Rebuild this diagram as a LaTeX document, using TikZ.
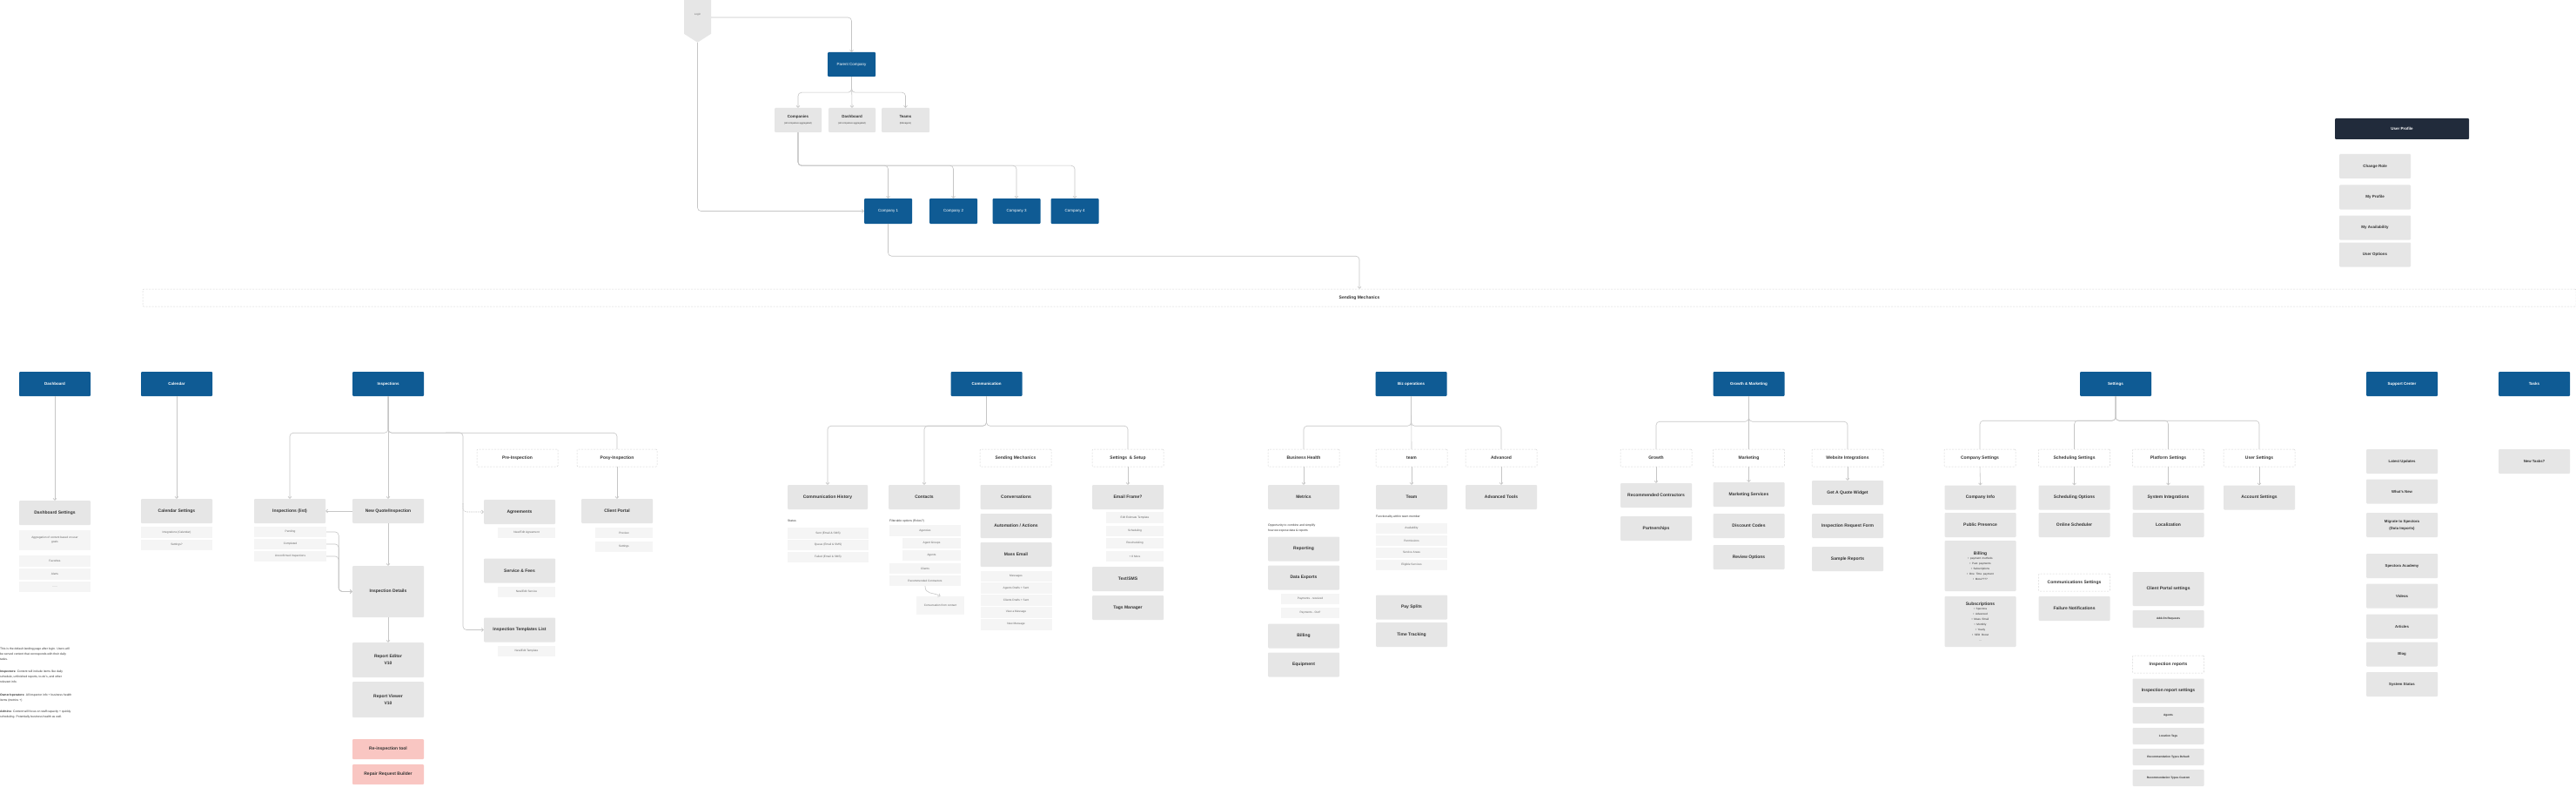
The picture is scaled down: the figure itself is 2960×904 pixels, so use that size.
\documentclass[tikz,border=0pt]{standalone}
\usepackage{fontspec}
\setmainfont{Liberation Sans}
\usetikzlibrary{arrows.meta,shapes.symbols}

\definecolor{hdrblue}{HTML}{0F5B94}
\definecolor{navy}{HTML}{212B3B}
\definecolor{boxgray}{HTML}{E6E6E6}
\definecolor{subgray}{HTML}{F5F5F5}
\definecolor{linegray}{HTML}{C6C6C6}
\definecolor{dashgray}{HTML}{D6D6D6}
\definecolor{pinkbox}{HTML}{F9C6C2}
\definecolor{txt}{HTML}{333333}

\tikzset{
  hdr/.style={fill=hdrblue, text=white, font=\fontsize{4.5}{6}\selectfont\bfseries,
    minimum width=82pt, minimum height=28pt, inner sep=0pt, rounded corners=1pt, align=center},
  card/.style={fill=boxgray, text=txt, font=\fontsize{5}{8}\selectfont\bfseries,
    minimum width=82pt, minimum height=28pt, inner sep=0pt, rounded corners=1pt, align=center},
  subitem/.style={fill=subgray, text=txt!75, font=\fontsize{3.2}{5}\selectfont,
    minimum width=82pt, minimum height=12pt, inner sep=0pt, align=center},
  group/.style={draw=dashgray, dash pattern=on 2pt off 1.5pt, line width=0.5pt, fill=white,
    text=txt, font=\fontsize{5}{6}\selectfont\bfseries, minimum width=82pt, minimum height=20pt,
    inner sep=0pt, rounded corners=1pt},
  pinkcard/.style={card, fill=pinkbox},
  note/.style={anchor=north west, inner sep=0pt, align=left, text=txt,
    font=\fontsize{3.4}{6}\selectfont},
  loginbox/.style={signal, signal to=south, signal pointer angle=115, fill=boxgray,
    minimum width=31pt, minimum height=46pt, inner sep=0pt, text=txt!70,
    font=\fontsize{3}{4}\selectfont},
  wire/.style={draw=linegray, line width=0.6pt, rounded corners=4pt},
  arr/.style={wire, -{Straight Barb[length=2pt,width=4pt]}}
}

\begin{document}
\begin{tikzpicture}[x=1pt,y=-1pt]
\fill[white] (0,0) rectangle (2960,904);
\useasboundingbox (0,0) rectangle (2960,904);

% login and companies
\node[loginbox] (login) at (801.5,17) {Login};
\node[hdr, font=\fontsize{4.5}{6}\selectfont, minimum width=55pt] (parent) at (978.5,74) {Parent Company};
\node[card, minimum width=54pt] (companies) at (917,138) {\fontsize{4.5}{5}\selectfont Companies\\[-1pt]{\fontsize{2.6}{3}\selectfont\mdseries (all companies aggregated)}};
\node[card, minimum width=54pt] (dashagg) at (979,138) {\fontsize{4.5}{5}\selectfont Dashboard\\[-1pt]{\fontsize{2.6}{3}\selectfont\mdseries (all companies aggregated)}};
\node[card, minimum width=55pt] (teams) at (1040.5,138) {\fontsize{4.5}{5}\selectfont Teams\\[-1pt]{\fontsize{2.6}{3}\selectfont\mdseries (Managers)}};
\node[hdr, font=\fontsize{4.5}{6}\selectfont, minimum width=55pt, minimum height=29pt] (comp1) at (1020.5,242.5) {Company 1};
\node[hdr, font=\fontsize{4.5}{6}\selectfont, minimum width=55pt, minimum height=29pt] (comp2) at (1095.5,242.5) {Company 2};
\node[hdr, font=\fontsize{4.5}{6}\selectfont, minimum width=55pt, minimum height=29pt] (comp3) at (1168,242.5) {Company 3};
\node[hdr, font=\fontsize{4.5}{6}\selectfont, minimum width=55pt, minimum height=29pt] (comp4) at (1235,242.5) {Company 4};
\node[group, minimum width=2796pt] (sendbar) at (1562,342) {Sending Mechanics};

\draw[arr] ([yshift=-3pt]login.east) -| (parent.north);
\draw[arr] (login.south) |- (comp1.west);
\draw[arr] (parent.south) -- ++(0,18) -| (companies.north);
\draw[arr] (parent.south) -- (dashagg.north);
\draw[arr] (parent.south) -- ++(0,18) -| (teams.north);
\draw[arr] (companies.south) -- ++(0,38) -| (comp1.north);
\draw[arr] (companies.south) -- ++(0,38) -| (comp2.north);
\draw[arr] (companies.south) -- ++(0,38) -| (comp3.north);
\draw[arr] (companies.south) -- ++(0,38) -| (comp4.north);
\draw[arr] (comp1.south) -- ++(0,37) -| (sendbar.north);

% user profile
\node[hdr, fill=navy, minimum width=154pt, minimum height=24pt] (uprof) at (2760,148) {User Profile};
\node[card, font=\fontsize{4.5}{6}\selectfont\bfseries] (chrole) at (2729,191) {Change Role};
\node[card, font=\fontsize{4.5}{6}\selectfont\bfseries] (myprof) at (2729,226.5) {My Profile};
\node[card, font=\fontsize{4.5}{6}\selectfont\bfseries] (myavail) at (2729,261.5) {My Availability};
\node[card, font=\fontsize{4.5}{6}\selectfont\bfseries] (uopts) at (2729,292.5) {User Options};

% main sections
\node[hdr] (dash) at (63,441) {Dashboard};
\node[hdr] (cal) at (203,441) {Calendar};
\node[hdr] (insp) at (446,441) {Inspections};
\node[hdr] (comm) at (1133.5,441) {Communication};
\node[hdr] (biz) at (1621.5,441) {Biz operations};
\node[hdr] (grow) at (2009.5,441) {Growth \& Marketing};
\node[hdr] (sett) at (2431,441) {Settings};
\node[hdr] (supp) at (2760,441) {Support Center};
\node[hdr] (tasks) at (2912,441) {Tasks};

% dashboard
\node[card] (dset) at (63,589) {Dashboard Settings};
\node[subitem, minimum height=23pt] (dagg) at (63,620.5) {Aggregation of content based on user\\goals};
\node[subitem, minimum height=13pt] (dfav) at (63,644.5) {Favorites};
\node[subitem, minimum height=13pt] (dalert) at (63,659.5) {Alerts};
\node[subitem, minimum height=12pt] (ddots) at (63,674) {......};
\draw[arr] (dash.south) -- (dset.north);
\node[note] (dnote1) at (0,744) {This is the default landing page after login. Users will\\be served content that corresponds with their daily\\tasks.};
\node[note] (dnote2) at (0,769.5) {\textbf{Inspectors:} Content will include items like daily\\schedule, unfinished reports, to-do's, and other\\relevant info.};
\node[note] (dnote3) at (0,797) {\textbf{Owner/operators:} All inspector info + business health\\items (metrics +)};
\node[note] (dnote4) at (0,816) {\textbf{Admins:} Content will focus on staff capacity + quickly\\scheduling. Potentially business health as well.};

% calendar
\node[card] (cset) at (203,587) {Calendar Settings};
\node[subitem, minimum height=13pt] (calint) at (203,611.5) {Integrations (Calendar)};
\node[subitem, minimum height=12pt] (calset) at (203,626) {Settings?};
\draw[arr] (cal.south) -- (cset.north);

% inspections
\node[card] (ilist) at (333,587) {Inspections (list)};
\node[card] (newq) at (446,587) {New Quote/Inspection};
\node[subitem, minimum width=83pt] (pending) at (333.5,611) {Pending};
\node[subitem, minimum width=83pt] (completed) at (333.5,625) {Completed};
\node[subitem, minimum width=83pt] (unconf) at (333.5,639) {Unconfirmed Inspections};
\node[card, minimum height=59pt] (idet) at (446,679.5) {Inspection Details};
\node[card, minimum height=40pt] (redit) at (446,758) {Report Editor\\V10};
\node[card, minimum height=41pt] (rview) at (446,803.5) {Report Viewer\\V10};
\node[pinkcard, minimum height=23pt] (reinsp) at (446,860.5) {Re-inspection tool};
\node[pinkcard, minimum height=23pt] (repair) at (446,889.5) {Repair Request Builder};
\node[group, minimum width=93pt] (preinsp) at (594.5,526) {Pre-Inspection};
\node[card] (agree) at (597,588) {Agreements};
\node[subitem, minimum width=66pt] (agreenew) at (605,612) {New/Edit Agreement};
\node[card] (svc) at (597,655.5) {Service \& Fees};
\node[subitem, minimum width=66pt] (svcnew) at (605,679.5) {New/Edit Service};
\node[card] (tmpl) at (597,723.5) {Inspection Templates List};
\node[subitem, minimum width=66pt] (tmplnew) at (605,748) {New/Edit Template};
\node[group, minimum width=92pt] (postinsp) at (709,526) {Posy-Inspection};
\node[card] (portal) at (709,587) {Client Portal};
\node[subitem, minimum width=66pt] (preview) at (717,612) {Preview};
\node[subitem, minimum width=66pt] (psettings) at (717,628) {Settings};
\coordinate (agtap) at (532,578);

\draw[arr] (insp.south) -- ++(0,42) -| (ilist.north);
\draw[arr] (insp.south) -- (newq.north);
\draw[wire] (insp.south) -- ++(0,42) -| (postinsp.north);
\draw[arr] (insp.south) -- ++(0,42) -- (532,497) |- (tmpl.west);
\draw[arr, dash pattern=on 1.5pt off 1pt] (agtap) |- (agree.west);
\draw[arr] (newq.west) -- (ilist.east);
\draw[arr] (pending.east) -- ++(14,0) |- (idet.west);
\draw[arr] (completed.east) -- ++(14,0) |- (idet.west);
\draw[arr] (unconf.east) -- ++(14,0) |- (idet.west);
\draw[arr] (newq.south) -- (idet.north);
\draw[arr] (idet.south) -- (redit.north);
\draw[arr] (postinsp.south) -- (portal.north);

% communication
\node[card, minimum width=92pt] (chist) at (951,571) {Communication History};
\node[card] (contacts) at (1062,571) {Contacts};
\node[group] (smech) at (1167,526) {Sending Mechanics};
\node[group] (setsetup) at (1296,526) {Settings\enspace\& Setup};
\node[card] (convs) at (1167.5,571) {Conversations};
\node[card] (autom) at (1167.5,604) {Automation / Actions};
\node[card] (massem) at (1167.5,637) {Mass Email};
\node[card] (emailfr) at (1296,571) {Email Frame?};
\node[note] (statlbl) at (905,597) {Status};
\node[subitem, minimum width=93pt, minimum height=13pt] (sent) at (951.5,612.5) {Sent (Email \& SMS)};
\node[subitem, minimum width=93pt] (queue) at (951.5,626) {Queue (Email \& SMS)};
\node[subitem, minimum width=93pt] (failed) at (951.5,640) {Failed (Email \& SMS)};
\node[note] (filtlbl) at (1022,597) {Filterable options (Roles?)};
\node[subitem, minimum height=13pt] (agencies) at (1063,609.5) {Agencies};
\node[subitem, minimum width=67pt] (agentgr) at (1070.5,624) {Agent Groups};
\node[subitem, minimum width=67pt] (agents) at (1070.5,638) {Agents};
\node[subitem] (clients) at (1063,653) {Clients};
\node[subitem] (recon) at (1063,667) {Recommended Contractors};
\node[subitem, minimum width=55pt, minimum height=21pt] (convcont) at (1080.5,695.5) {Conversation from contact};
\node[subitem] (messages) at (1167.5,662) {Messages};
\node[subitem, minimum height=13pt] (agdraft) at (1167.5,675.5) {Agents Drafts + Sent};
\node[subitem, minimum height=13pt] (cldraft) at (1167.5,689) {Clients Drafts + Sent};
\node[subitem, minimum height=13pt] (viewmsg) at (1167.5,703) {View a Message};
\node[subitem, minimum height=13pt] (newmsg) at (1167.5,717) {New Message};
\node[subitem, minimum width=66pt, minimum height=13pt] (editest) at (1304,594.5) {Edit Estimate Template};
\node[subitem, minimum width=66pt] (sched) at (1304,610) {Scheduling};
\node[subitem, minimum width=66pt] (resched) at (1304,624) {Rescheduling};
\node[subitem, minimum width=66pt] (more8) at (1304,639) {+ 8 More};
\node[card] (textsms) at (1296,665) {Text/SMS};
\node[card] (tagsmgr) at (1296,698) {Tags Manager};

\draw[arr] (comm.south) -- ++(0,34) -| (chist.north);
\draw[arr] (comm.south) -- ++(0,34) -| (contacts.north);
\draw[wire] (comm.south) -- ++(0,34) -| (setsetup.north);
\draw[arr] (setsetup.south) -- (emailfr.north);
\draw[arr] (recon.south) .. controls +(0,10) and +(-9,-5) .. (convcont.north);

% biz operations
\node[group] (bhealth) at (1498,526) {Business Health};
\node[group] (teamg) at (1622,526) {team};
\node[group] (advg) at (1725,526) {Advanced};
\node[card] (metrics) at (1498,571) {Metrics};
\node[card] (team) at (1622,571) {Team};
\node[card] (advtools) at (1725,571) {Advanced Tools};
\node[note] (opplbl) at (1457,602) {Opportunity to combine and simplify\\how we expose data \& reports};
\node[card] (reporting) at (1498,630.5) {Reporting};
\node[card] (dataexp) at (1498,663.5) {Data Exports};
\node[subitem, minimum width=67pt] (payrec) at (1505.5,688) {Payments - received};
\node[subitem, minimum width=67pt] (payout) at (1505.5,704) {Payments - Out?};
\node[card] (billing) at (1498,730.5) {Billing};
\node[card] (equip) at (1498,763.5) {Equipment};
\node[note] (funclbl) at (1581,592) {Functionality within team member};
\node[subitem] (avail) at (1622,607) {Availability};
\node[subitem] (perms) at (1622,621) {Permissions};
\node[subitem] (svcareas) at (1622,634.5) {Service Areas};
\node[subitem] (eligsvc) at (1622,648.5) {Eligible Services};
\node[card] (paysplit) at (1622,697.5) {Pay Splits};
\node[card] (timetrack) at (1622,729) {Time Tracking};

\draw[wire] (biz.south) -- ++(0,34) -| (bhealth.north);
\draw[wire] (biz.south) -- (teamg.north);
\draw[wire] (biz.south) -- ++(0,34) -| (advg.north);
\draw[arr] (bhealth.south) -- (metrics.north);
\draw[arr] (teamg.south) -- (team.north);
\draw[arr] (advg.south) -- (advtools.north);

% growth and marketing
\node[group] (growthg) at (1903,526) {Growth};
\node[group] (mktg) at (2009.5,526) {Marketing};
\node[group] (webint) at (2123,526) {Website Integrations};
\node[card] (reccon) at (1903,569) {Recommended Contractors};
\node[card] (partner) at (1903,607) {Partnerships};
\node[card] (mktsvc) at (2009.5,568) {Marketing Services};
\node[card] (discount) at (2009.5,604) {Discount Codes};
\node[card] (review) at (2009.5,640) {Review Options};
\node[card] (quote) at (2123,566) {Get A Quote Widget};
\node[card] (reqform) at (2123,604) {Inspection Request Form};
\node[card] (sample) at (2123,642) {Sample Reports};

\draw[wire] (grow.south) -- ++(0,29) -| (growthg.north);
\draw[wire] (grow.south) -- (mktg.north);
\draw[wire] (grow.south) -- ++(0,29) -| (webint.north);
\draw[arr] (growthg.south) -- (reccon.north);
\draw[arr] (mktg.south) -- (mktsvc.north);
\draw[arr] (webint.south) -- (quote.north);

% settings
\node[group] (compset) at (2275,526) {Company Settings};
\node[group] (schedset) at (2383.5,526) {Scheduling Settings};
\node[group] (platset) at (2491.5,526) {Platform Settings};
\node[group] (userset) at (2596,526) {User Settings};
\node[card] (compinfo) at (2275.5,571.5) {Company Info};
\node[card] (pubpres) at (2275.5,603) {Public Presence};
\node[card, text width=80pt, minimum height=58pt] (billset) at (2275.5,650) {Billing\\[-1pt]{\fontsize{3.1}{6}\selectfont\mdseries
  • payment methods\\• Past payments\\• Subscriptions\\• One Time payment\\• More????\par}};
\node[card, text width=80pt, minimum height=58pt] (subs) at (2275.5,714) {Subscriptions\\[-1pt]{\fontsize{3.1}{6}\selectfont\mdseries
  • Spectora\\• Advanced\\• Mass Email\\• Monthly\\• Yearly\\• SEO Boost\\...\par}};
\node[card] (schedopt) at (2383.5,571.5) {Scheduling Options};
\node[card] (onlinesch) at (2383.5,603) {Online Scheduler};
\node[group] (commset) at (2383.5,669) {Communications Settings};
\node[card] (failnot) at (2383.5,699) {Failure Notifications};
\node[card] (sysint) at (2491.5,571.5) {System Integrations};
\node[card] (local) at (2491.5,603) {Localization};
\node[card, minimum height=39pt] (cpset) at (2491.5,676.5) {Client Portal settings};
\node[card, minimum height=20pt, font=\fontsize{3.2}{5}\selectfont\bfseries] (addon) at (2491.5,711) {Add-On Requests};
\node[group] (inspreps) at (2491.5,763) {Inspection reports};
\node[card] (irset) at (2491.5,793.5) {Inspection report settings};
\node[card, minimum height=19pt, font=\fontsize{3.2}{5}\selectfont\bfseries] (agentsr) at (2491.5,821.5) {Agents};
\node[card, minimum height=19pt, font=\fontsize{3.2}{5}\selectfont\bfseries] (loctags) at (2491.5,845.5) {Location Tags};
\node[card, minimum height=19pt, font=\fontsize{3.2}{5}\selectfont\bfseries] (recdef) at (2491.5,869.5) {Recommendation Types Default};
\node[card, minimum height=19pt, font=\fontsize{3.2}{5}\selectfont\bfseries] (reccust) at (2491.5,893.5) {Recommendation Types Custom};
\node[card] (acctset) at (2596,571.5) {Account Settings};

\draw[wire] (sett.south) -- ++(0,28) -| (compset.north);
\draw[wire] (sett.south) -- ++(0,28) -| (schedset.north);
\draw[wire] (sett.south) -- ++(0,28) -| (platset.north);
\draw[wire] (sett.south) -- ++(0,28) -| (userset.north);
\draw[arr] (compset.south) -- (compinfo.north);
\draw[arr] (schedset.south) -- (schedopt.north);
\draw[arr] (platset.south) -- (sysint.north);
\draw[arr] (userset.south) -- (acctset.north);

% support and tasks
\node[card, font=\fontsize{4.3}{8}\selectfont\bfseries] (latest) at (2760,530) {Latest Updates};
\node[card, font=\fontsize{4.3}{8}\selectfont\bfseries] (whatsnew) at (2760,564.5) {What's New};
\node[card, font=\fontsize{4.3}{8}\selectfont\bfseries] (migrate) at (2760,603) {Migrate to Spectora\\(Data Imports)};
\node[card, font=\fontsize{4.3}{8}\selectfont\bfseries] (academy) at (2760,650) {Spectora Academy};
\node[card, font=\fontsize{4.3}{8}\selectfont\bfseries] (videos) at (2760,684.5) {Videos};
\node[card, font=\fontsize{4.3}{8}\selectfont\bfseries] (articles) at (2760,719.5) {Articles};
\node[card, font=\fontsize{4.3}{8}\selectfont\bfseries] (blog) at (2760,751.5) {Blog};
\node[card, font=\fontsize{4.3}{8}\selectfont\bfseries] (sysstat) at (2760,786) {System Status};
\node[card, font=\fontsize{4.3}{8}\selectfont\bfseries] (newtasks) at (2912,530) {New Tasks?};
\end{tikzpicture}
\end{document}
